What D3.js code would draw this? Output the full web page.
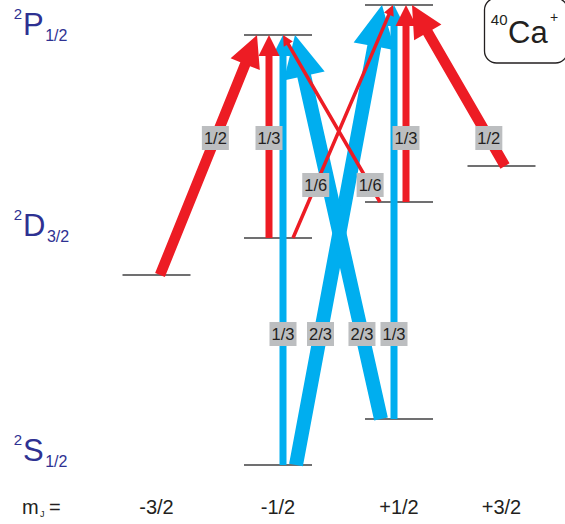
<!DOCTYPE html>
<html>
<head>
<meta charset="utf-8">
<script src="https://cdn.jsdelivr.net/npm/d3@7"></script>
<style>
  body { margin: 0; background: #fff; }
  svg { display: block; font-family: "Liberation Sans", Arial, sans-serif; }
</style>
</head>
<body>
<svg id="chart" width="565" height="524"></svg>
<script>
// 40Ca+ level scheme: S1/2, D3/2 and P1/2 Zeeman sublevels (energies in arbitrary units)
const terms = ["S", "D", "P"];
const termJ = ["1/2", "3/2", "1/2"];
const termMultiplicity = ["2", "2", "2"];
const mJValues = ["-3/2", "-1/2", "+1/2", "+3/2"];

const levelTerm = ["S", "S", "D", "D", "D", "D", "P", "P"];
const levelMJ = ["-1/2", "+1/2", "-3/2", "-1/2", "+1/2", "+3/2", "-1/2", "+1/2"];
const levelEnergy = [0, 46, 190, 227, 263, 299, 430, 460];

// Dipole transitions between sublevels: lower index -> upper index, relative strength
const lineLower = [0, 0, 1, 1, 2, 3, 3, 4, 4, 5];
const lineUpper = [6, 7, 6, 7, 6, 6, 7, 6, 7, 7];
const lineStrength = ["1/3", "2/3", "2/3", "1/3", "1/2", "1/3", "1/6", "1/6", "1/3", "1/2"];
const lineBand = ["397", "397", "397", "397", "866", "866", "866", "866", "866", "866"];

// ---- layout ----
const svg = d3.select("#chart");
const x = d3.scaleOrdinal().domain(mJValues).range([156.5, 278, 399, 501.5]);
const y = d3.scaleLinear().domain([0, 460]).range([465, 5]);
const widthOf = d3.scaleLinear().domain([0, 1]).range([0, 21]);
const colour = d3.scaleOrdinal().domain(["397", "866"]).range(["#00aeef", "#ed1c24"]);
const levelHalf = 34;

// horizontal shifts of arrow tails / tips from level centres, and label heights
const tailShift = [5, 18, -18, -5, 3.5, -9, 15, -19, 7, 3.5];
const tipShift = [5, -17, 17, -5, -21, -9, -6, 5, 7, 13];
const labelY = [334, 334, 334, 334, 138, 138, 185, 185, 138, 138];

const frac = s => { const [a, b] = s.split("/").map(Number); return a / b; };

const levels = levelEnergy.map((e, i) => ({ term: levelTerm[i], mJ: levelMJ[i], energy: e }));
const lines = lineLower.map((lo, i) => {
  const L = levels[lo], U = levels[lineUpper[i]];
  return {
    x0: x(L.mJ) + tailShift[i], y0: y(L.energy),
    x1: x(U.mJ) + tipShift[i], y1: y(U.energy),
    value: frac(lineStrength[i]), text: lineStrength[i], band: lineBand[i], ly: labelY[i]
  };
});

// energy levels
svg.append("g").selectAll("line").data(levels).join("line")
  .attr("x1", d => x(d.mJ) - levelHalf).attr("x2", d => x(d.mJ) + levelHalf)
  .attr("y1", d => y(d.energy)).attr("y2", d => y(d.energy))
  .attr("stroke", "#414042").attr("stroke-width", 1.4);

// arrow outline: shaft of width w and a head 3w long and 3w wide
function arrowPath(d) {
  const w = widthOf(d.value), hl = 3 * w, hw = 3 * w;
  const dx = d.x1 - d.x0, dy = d.y1 - d.y0, len = Math.hypot(dx, dy);
  const ux = dx / len, uy = dy / len, nx = -uy, ny = ux;
  const bx = d.x1 - ux * hl, by = d.y1 - uy * hl;
  const p = [
    [d.x0 + nx * w / 2, d.y0 + ny * w / 2],
    [bx + nx * w / 2, by + ny * w / 2],
    [bx + nx * hw / 2, by + ny * hw / 2],
    [d.x1, d.y1],
    [bx - nx * hw / 2, by - ny * hw / 2],
    [bx - nx * w / 2, by - ny * w / 2],
    [d.x0 - nx * w / 2, d.y0 - ny * w / 2]
  ];
  return "M" + p.map(q => q.join(",")).join("L") + "Z";
}

const arrows = svg.append("g");
["397", "866"].forEach(band => {
  arrows.selectAll(null).data(lines.filter(d => d.band === band)).join("path")
    .attr("d", arrowPath).attr("fill", colour(band));
});

// strength labels on each arrow
const lab = svg.append("g").selectAll("g").data(lines).join("g")
  .attr("transform", d => {
    const t = (d.ly - d.y0) / (d.y1 - d.y0);
    return `translate(${d.x0 + t * (d.x1 - d.x0)},${d.ly})`;
  });
lab.append("rect").attr("x", -13.5).attr("y", -12).attr("width", 27).attr("height", 24)
  .attr("fill", "#bcbec0");
lab.append("text").attr("text-anchor", "middle").attr("y", 6)
  .attr("font-size", 16.5).attr("fill", "#231f20").text(d => d.text);

// term symbols
const termBaseline = { S: 461, D: 236, P: 35 };
terms.forEach((t, i) => {
  const by = termBaseline[t];
  const g = svg.append("g").attr("fill", "#2e3192");
  g.append("text").attr("x", 22).attr("y", by - 16).attr("text-anchor", "end")
    .attr("font-size", 15).text(termMultiplicity[i]);
  const main = g.append("text").attr("x", 23).attr("y", by).attr("font-size", 31).text(t);
  const wMain = main.node().getComputedTextLength();
  g.append("text").attr("x", 23 + wMain + 1.5).attr("y", by + 6)
    .attr("font-size", 16).text(termJ[i]);
});

// mJ axis labels
const axisY = 514;
svg.append("g").selectAll("text").data(mJValues).join("text")
  .attr("x", d => x(d)).attr("y", axisY).attr("text-anchor", "middle")
  .attr("font-size", 20).attr("fill", "#231f20").text(d => d);
const mj = svg.append("g").attr("fill", "#231f20");
mj.append("text").attr("x", 22).attr("y", axisY).attr("font-size", 20).text("m");
mj.append("text").attr("x", 40).attr("y", axisY + 3).attr("font-size", 9).text("J");
mj.append("text").attr("x", 49).attr("y", axisY).attr("font-size", 20).text("=");

// ion badge
svg.append("rect").attr("x", 484.5).attr("y", -2).attr("width", 83).attr("height", 65)
  .attr("rx", 12).attr("fill", "none").attr("stroke", "#231f20").attr("stroke-width", 1.3);
const ion = svg.append("g").attr("fill", "#231f20");
ion.append("text").attr("x", 507.5).attr("y", 25).attr("text-anchor", "end").attr("font-size", 15).text("40");
ion.append("text").attr("x", 508).attr("y", 43).attr("font-size", 31).text("Ca");
ion.append("text").attr("x", 550).attr("y", 22).attr("font-size", 14).text("+");
</script>
</body>
</html>
